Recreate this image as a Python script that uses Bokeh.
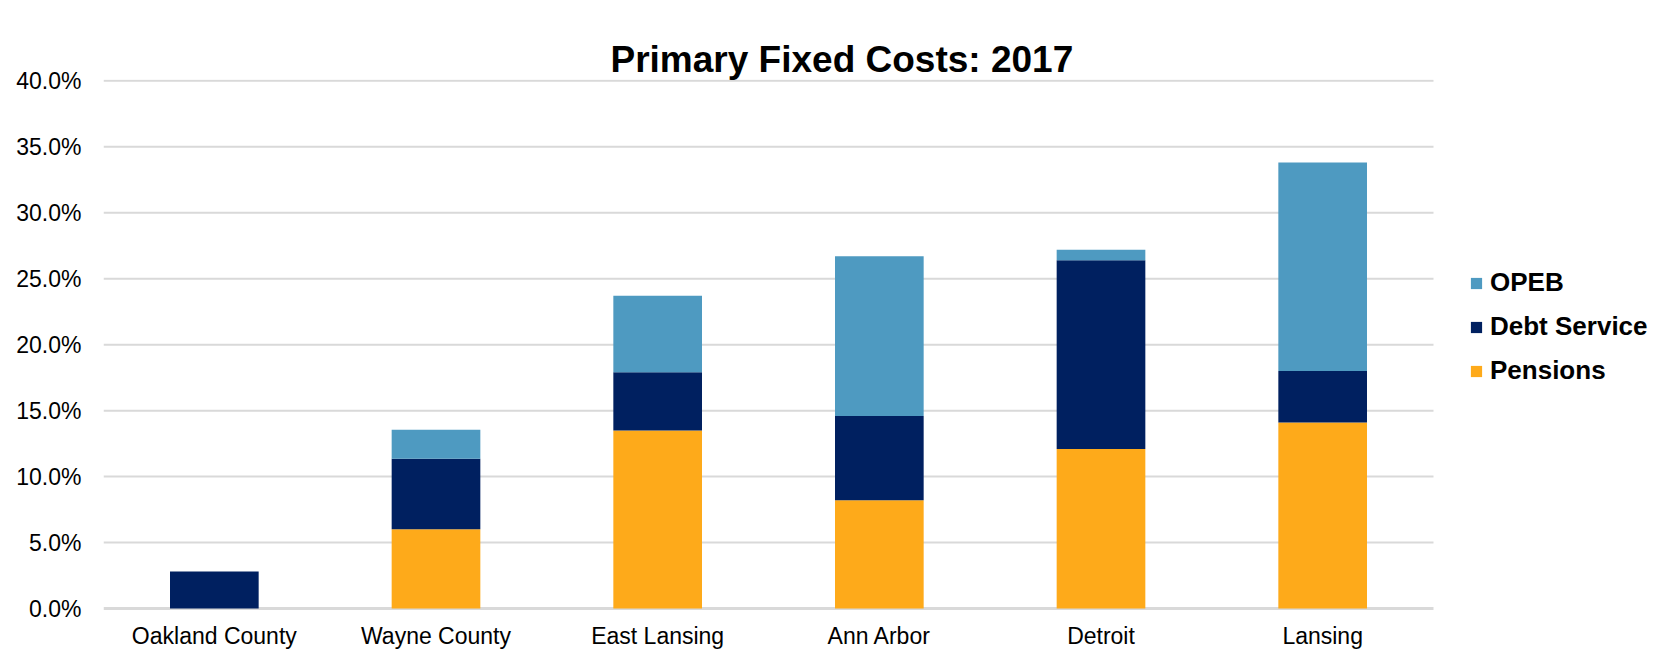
from bokeh.plotting import figure
from bokeh.models import Legend, LegendItem, PrintfTickFormatter, FixedTicker, Range1d, Title
from bokeh.embed import file_html
from bokeh.resources import INLINE

cities = ["Oakland County", "Wayne County", "East Lansing", "Ann Arbor", "Detroit", "Lansing"]
pensions = [0.0, 6.0, 13.5, 8.2, 12.1, 14.1]
debt_service = [2.8, 5.35, 4.4, 6.4, 14.3, 3.9]
opeb = [0.0, 2.2, 5.8, 12.1, 0.8, 15.8]
y_ticks = [0, 5, 10, 15, 20, 25, 30, 35, 40]

series = ["pensions", "debt_service", "opeb"]
labels = {"pensions": "Pensions", "debt_service": "Debt Service", "opeb": "OPEB"}
colors = ["#FEAA1A", "#002060", "#4E9AC1"]

n = len(cities)
xpos = [i + 0.5 for i in range(n)]
data = dict(x=xpos, cities=cities, pensions=pensions, debt_service=debt_service, opeb=opeb)

W, H = 1670, 652
left, top, bottom = 103, 79, 42
unit_px = 1330 / n
x_end = (W - left) / unit_px

p = figure(title=None, x_range=Range1d(0, x_end), y_range=Range1d(-0.15, 40.1), width=W, height=H,
           output_backend="svg", toolbar_location=None,
           min_border_left=left, min_border_right=0, min_border_top=top, min_border_bottom=bottom)

# gridlines and baseline across the category area only
grid_y = [t for t in y_ticks if t != 0]
p.segment(x0=[0] * len(grid_y), x1=[n] * len(grid_y), y0=grid_y, y1=grid_y,
          line_color="#D9D9D9", line_width=2)
p.segment(x0=[0], x1=[n], y0=[0], y1=[0], line_color="#D9D9D9", line_width=3)

renderers = p.vbar_stack(series, x="x", width=0.4, color=colors, source=data, line_width=0)

# spacer nearest the frame, then the real title above it
spacer = Title(text=".", text_font_size="1px", standoff=31, text_color="#FFFFFF", text_alpha=0)
p.add_layout(spacer, "above")
main_title = Title(text="Primary Fixed Costs: 2017", text_font="Liberation Sans",
                   text_font_size="37px", text_font_style="bold", text_color="#000000",
                   align="left", vertical_align="bottom", offset=507, standoff=0)
p.add_layout(main_title, "above")

p.outline_line_color = None
p.xgrid.grid_line_color = None
p.ygrid.grid_line_color = None
p.yaxis.ticker = FixedTicker(ticks=y_ticks)
p.yaxis.formatter = PrintfTickFormatter(format="%.1f%%")
p.yaxis.axis_line_color = None
p.yaxis.major_tick_line_color = None
p.yaxis.minor_tick_line_color = None
p.yaxis.major_tick_out = 0
p.yaxis.major_tick_in = 0
p.yaxis.minor_tick_out = 0
p.yaxis.major_label_standoff = 22
p.yaxis.major_label_text_font = "Liberation Sans"
p.yaxis.major_label_text_font_size = "23px"
p.yaxis.major_label_text_color = "#000000"

p.xaxis.ticker = FixedTicker(ticks=xpos)
p.xaxis.major_label_overrides = {x: c for x, c in zip(xpos, cities)}
p.xaxis.axis_line_color = None
p.xaxis.major_tick_line_color = None
p.xaxis.minor_tick_line_color = None
p.xaxis.major_tick_out = 0
p.xaxis.major_tick_in = 0
p.xaxis.minor_tick_out = 0
p.xaxis.major_label_standoff = 12
p.xaxis.major_label_text_font = "Liberation Sans"
p.xaxis.major_label_text_font_size = "23px"
p.xaxis.major_label_text_color = "#000000"

items = [LegendItem(label=labels[s], renderers=[r]) for s, r in zip(series, renderers)]
items.reverse()
legend = Legend(items=items, location=(1366, 224), orientation="vertical",
                glyph_width=14, glyph_height=14, label_standoff=7, spacing=13,
                label_height=30, padding=0, margin=0, border_line_color=None,
                background_fill_alpha=0,
                label_text_font="Liberation Sans", label_text_font_size="26px",
                label_text_font_style="bold", label_text_color="#000000")
p.add_layout(legend, "center")

open("out.html", "w").write(file_html(p, INLINE))
